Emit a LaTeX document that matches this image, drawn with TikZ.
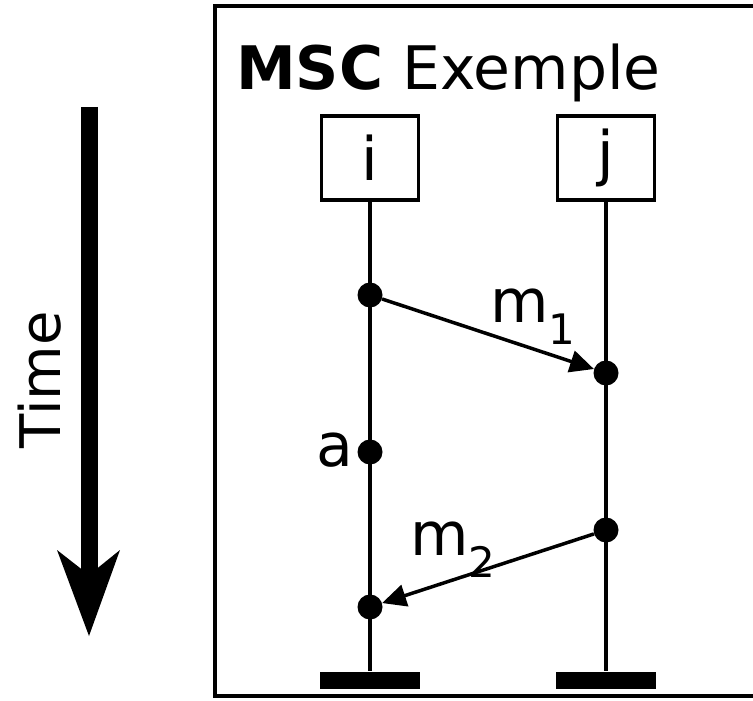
\documentclass[tikz,border=0pt]{standalone}
\usepackage{fontspec}
\setmainfont{DejaVu Sans}
\usetikzlibrary{arrows.meta}
\tikzset{
  frameline/.style={line width=4pt},
  instbox/.style={draw, line width=3.5pt, minimum width=97pt, minimum height=84pt, inner sep=0pt, font=\fontsize{60}{62}\selectfont},
  life/.style={line width=3.5pt},
  endbar/.style={fill=black, draw=none, minimum width=100pt, minimum height=17pt, inner sep=0pt},
  evt/.style={circle, fill=black, draw=none, minimum size=25pt, inner sep=0pt},
  msg/.style={line width=3.5pt, -{Triangle[length=24pt,width=22pt]}},
  lbl/.style={font=\fontsize{60}{62}\selectfont, inner sep=0pt}
}
\begin{document}
\begin{tikzpicture}[x=1pt,y=-1pt]
\useasboundingbox (0,0) rectangle (753,701);
% frame (open at right edge)
\draw[frameline] (753,6) -- (215,6) -- (215,696) -- (753,696);
% title
\node[lbl, anchor=base west, font=\fontsize{60}{62}\selectfont] (title) at (236,89) {\textbf{MSC} Exemple};
% instances
\node[instbox] (bi) at (370,158) {i};
\node[instbox] (bj) at (606,158) {j};
\node[endbar] (ei) at (370,680) {};
\node[endbar] (ej) at (606,680) {};
\draw[life] (bi.south) -- (ei.north);
\draw[life] (bj.south) -- (ej.north);
% events
\node[evt] (i1) at (370,295) {};
\node[evt] (j1) at (606,373) {};
\node[evt] (i2) at (370,452) {};
\node[evt] (j2) at (606,530) {};
\node[evt] (i3) at (370,607) {};
% messages
\draw[msg] (i1) -- (j1);
\draw[msg] (j2) -- (i3);
\node[lbl, anchor=base west] (m1) at (490,322) {m\textsubscript{1}};
\node[lbl, anchor=base west] (m2) at (410,555) {m\textsubscript{2}};
\node[lbl, anchor=base east] (la) at (353,466) {a};
% time arrow
\coordinate (ts) at (89,107);
\coordinate (tn) at (89,575);
\coordinate (tt) at (89,636);
\coordinate (tl) at (57,550);
\coordinate (tr) at (120,550);
\draw[line width=17pt] (ts) -- (tn);
\fill (tt) -- (tl) -- (tn) -- (tr) -- cycle;
\node[font=\fontsize{56}{58}\selectfont, rotate=90, inner sep=0pt] (time) at (40,380) {Time};
\end{tikzpicture}
\end{document}
